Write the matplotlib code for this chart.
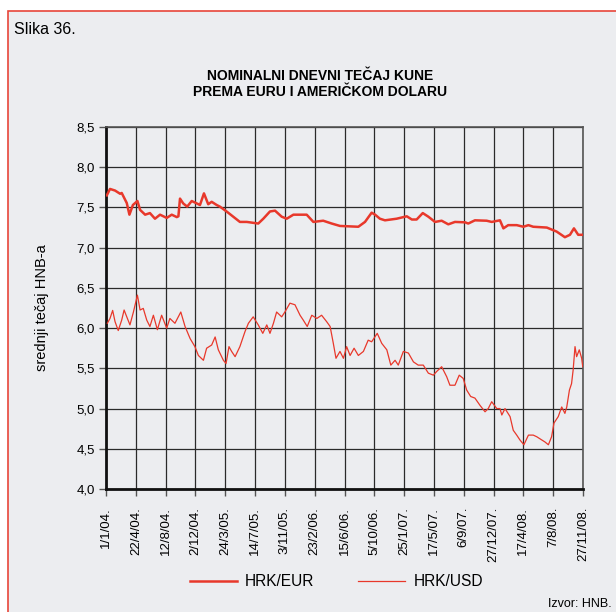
import matplotlib.pyplot as plt
from matplotlib.patches import Rectangle

plt.rcParams['font.family'] = ['Liberation Sans', 'DejaVu Sans']

# days since 1/1/2004
eur_day = [3, 15, 34, 53, 59, 78, 88, 101, 118, 128, 147, 165, 184, 203, 228, 247, 266,
           272, 278, 290, 305, 322, 341, 353, 368, 384, 397, 416, 428, 453, 478, 503, 529,
           572, 591, 616, 635, 660, 679, 704, 754, 779, 816, 848, 879, 948, 973, 998, 1011,
           1029, 1048, 1092, 1130, 1149, 1167, 1190, 1211, 1236, 1261, 1286, 1311, 1349,
           1361, 1386, 1430, 1449, 1480, 1493, 1511, 1543, 1568, 1587, 1605, 1656, 1693,
           1724, 1743, 1758, 1774, 1791]
eur_val = [7.65, 7.73, 7.71, 7.67, 7.68, 7.555, 7.41, 7.53, 7.58, 7.47, 7.41, 7.43, 7.36,
           7.41, 7.37, 7.41, 7.38, 7.39, 7.61, 7.55, 7.51, 7.58, 7.55, 7.53, 7.675, 7.54,
           7.57, 7.53, 7.51, 7.45, 7.385, 7.32, 7.32, 7.30, 7.36, 7.45, 7.46, 7.385, 7.36,
           7.41, 7.41, 7.32, 7.335, 7.30, 7.27, 7.26, 7.32, 7.435, 7.41, 7.36, 7.34, 7.36,
           7.39, 7.35, 7.35, 7.43, 7.385, 7.32, 7.335, 7.29, 7.32, 7.315, 7.30, 7.34, 7.335,
           7.32, 7.34, 7.24, 7.28, 7.28, 7.26, 7.28, 7.26, 7.25, 7.20, 7.13, 7.16, 7.24,
           7.16, 7.16]

usd_day = [5, 15, 25, 34, 46, 59, 68, 78, 90, 103, 118, 128, 140, 153, 165, 178, 193, 209,
           228, 240, 259, 281, 297, 316, 334, 347, 366, 378, 397, 410, 422, 441, 451, 462,
           472, 485, 503, 522, 535, 553, 572, 589, 604, 616, 629, 641, 660, 672, 691, 710,
           729, 741, 756, 773, 792, 810, 829, 842, 854, 864, 879, 892, 904, 917, 932, 948,
           967, 985, 998, 1019, 1036, 1055, 1070, 1086, 1098, 1117, 1136, 1155, 1173, 1192,
           1211, 1230, 1242, 1261, 1280, 1292, 1311, 1327, 1342, 1355, 1370, 1386, 1405,
           1424, 1436, 1449, 1468, 1480, 1487, 1499, 1518, 1530, 1543, 1555, 1570, 1587,
           1605, 1618, 1637, 1649, 1662, 1674, 1683, 1699, 1712, 1724, 1731, 1741, 1749,
           1755, 1762, 1768, 1778, 1787, 1791]
usd_val = [6.06, 6.12, 6.22, 6.08, 5.97, 6.10, 6.225, 6.14, 6.04, 6.20, 6.41, 6.225, 6.245,
           6.10, 6.02, 6.16, 5.98, 6.16, 6.00, 6.12, 6.06, 6.20, 6.02, 5.87, 5.77, 5.66, 5.60,
           5.75, 5.79, 5.89, 5.73, 5.60, 5.56, 5.77, 5.71, 5.645, 5.77, 5.955, 6.06, 6.14,
           6.04, 5.935, 6.04, 5.935, 6.06, 6.20, 6.14, 6.20, 6.31, 6.29, 6.16, 6.10, 6.02,
           6.16, 6.12, 6.16, 6.08, 6.02, 5.81, 5.625, 5.71, 5.625, 5.77, 5.66, 5.75, 5.66,
           5.71, 5.85, 5.83, 5.935, 5.81, 5.73, 5.54, 5.60, 5.54, 5.71, 5.69, 5.58, 5.54,
           5.54, 5.44, 5.415, 5.46, 5.52, 5.395, 5.29, 5.29, 5.415, 5.375, 5.23, 5.15, 5.13,
           5.04, 4.96, 5.00, 5.085, 5.00, 5.00, 4.92, 5.00, 4.90, 4.73, 4.67, 4.61, 4.55,
           4.67, 4.67, 4.65, 4.61, 4.585, 4.55, 4.65, 4.82, 4.90, 5.02, 4.94, 5.02, 5.23,
           5.31, 5.48, 5.77, 5.645, 5.73, 5.625, 5.52]

tick_days = [112 * k for k in range(17)]
tick_labels = ['1/1/04.', '22/4/04.', '12/8/04.', '2/12/04.', '24/3/05.', '14/7/05.',
               '3/11/05.', '23/2/06.', '15/6/06.', '5/10/06.', '25/1/07.', '17/5/07.',
               '6/9/07.', '27/12/07.', '17/4/08.', '7/8/08.', '27/11/08.']
y_ticks = [4.0, 4.5, 5.0, 5.5, 6.0, 6.5, 7.0, 7.5, 8.0, 8.5]

red = '#E8382B'
bg = '#ECEDF0'

fig = plt.figure(figsize=(6.16, 6.12), dpi=100, facecolor='white')
fig.patches.append(Rectangle((8 / 616, -0.02), 0.99, 1 - 11 / 612 + 0.02,
                             transform=fig.transFigure, facecolor=bg,
                             edgecolor='#E8453A', linewidth=1.2, zorder=-10))

ax = fig.add_axes([106 / 616, 1 - 489 / 612, 477 / 616, 362 / 612])
ax.set_facecolor(bg)

ax.plot(eur_day, eur_val, color=red, lw=1.8, label='HRK/EUR', zorder=3)
ax.plot(usd_day, usd_val, color=red, lw=0.9, label='HRK/USD', zorder=3)

ax.set_xlim(0, 1792)
ax.set_ylim(4.0, 8.5)
ax.set_xticks(tick_days)
ax.set_xticklabels(tick_labels, rotation=90, fontsize=9.5, va='top')
ax.set_yticks(y_ticks)
ax.set_yticklabels([f'{v:.1f}'.replace('.', ',') for v in y_ticks], fontsize=9.5)
ax.tick_params(axis='both', direction='out', length=5, color='#555555', width=1, pad=3)
ax.tick_params(axis='x', pad=8)
ax.grid(True, color='#2a2a2a', lw=0.9)
ax.set_axisbelow(True)

for s in ['left', 'bottom']:
    ax.spines[s].set_linewidth(2)
    ax.spines[s].set_color('#111111')
for s in ['top', 'right']:
    ax.spines[s].set_linewidth(1.2)
    ax.spines[s].set_color('#555555')

ax.set_ylabel('srednji tečaj HNB-a', fontsize=10.5, labelpad=20)

fig.text(14 / 616, 1 - 30 / 612, 'Slika 36.', fontsize=11.5, va='center', ha='left')
fig.text(320 / 616, 1 - 84 / 612, 'NOMINALNI DNEVNI TEČAJ KUNE\nPREMA EURU I AMERIČKOM DOLARU',
         fontsize=10, fontweight='bold', ha='center', va='center', linespacing=1.15)
fig.text(612 / 616, 1 - 604 / 612, 'Izvor: HNB.', fontsize=9, ha='right', va='center')

fig.legend(loc='center', bbox_to_anchor=(0.546, 1 - 582 / 612), ncol=2, frameon=False,
           fontsize=11.2, handlelength=3.0, columnspacing=2.8, handletextpad=0.55)

fig.savefig('out.png', dpi=100, facecolor=fig.get_facecolor())
